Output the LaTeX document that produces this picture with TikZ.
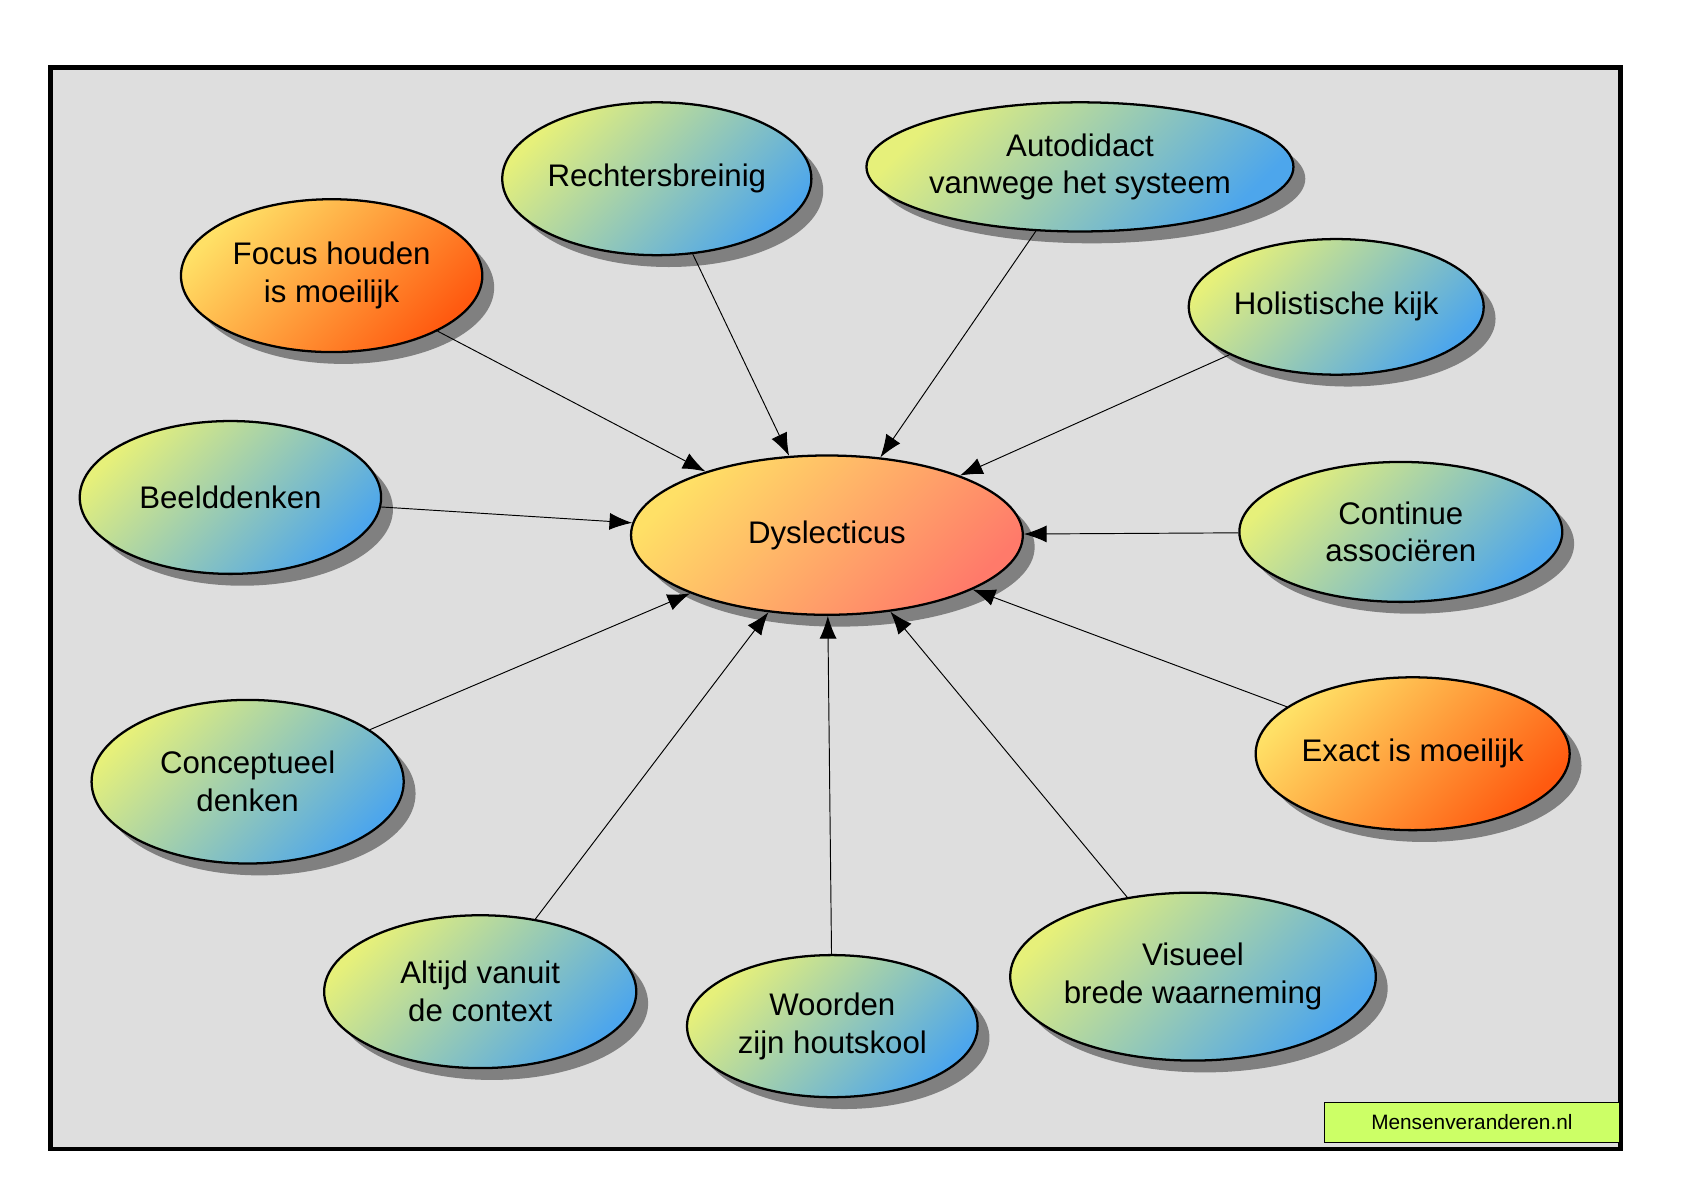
\documentclass[tikz,border=0pt]{standalone}
\usepackage{fontspec}
\setmainfont{Liberation Sans}
\usetikzlibrary{shapes.geometric,shadows,arrows.meta}
\definecolor{yg}{HTML}{E6F07A}
\definecolor{bl}{HTML}{4DA6EC}
\definecolor{yo}{HTML}{FFE066}
\definecolor{ro}{HTML}{FF5A10}
\definecolor{sal}{HTML}{FF7A6A}
\tikzset{
 el/.style n args={2}{ellipse,draw=black,line width=1.2pt,inner sep=0pt,align=center,
   minimum width=#1*0.04cm,minimum height=#2*0.04cm,font=\fontsize{16.5}{20}\selectfont,
   drop shadow={shadow xshift=0.22cm,shadow yshift=-0.22cm,fill=black!50,opacity=1}},
 blue/.style={top color=yg,bottom color=bl,shading angle=45},
 orng/.style={top color=yo,bottom color=ro,shading angle=45},
 arr/.style={-{Latex[length=12pt,width=9pt]},line width=0.5pt}
}
\begin{document}
\begin{tikzpicture}[x=0.02cm,y=-0.02cm]
\useasboundingbox (0,0) rectangle (1564,1106);
\node[draw=black,line width=2.5pt,fill=black!13,minimum width=1458*0.02cm,minimum height=1004*0.02cm,inner sep=0pt] (frame) at (776,565) {};
\node[el={182}{74},top color=yo,bottom color=sal,shading angle=45] (d) at (768,497) {Dyslecticus};
\node[el={140}{71},blue] (r) at (610,166) {Rechtersbreinig};
\node[el={190}{60},blue] (a) at (1003,155) {Autodidact\\vanwege het systeem};
\node[el={140}{71},orng] (f) at (308,256) {Focus houden\\is moeilijk};
\node[el={137}{63},blue] (h) at (1241,285) {Holistische kijk};
\node[el={140}{71},blue] (b) at (214,462) {Beelddenken};
\node[el={150}{65},blue] (c) at (1301,494) {Continue\\associëren};
\node[el={145}{76},blue] (k) at (230,726) {Conceptueel\\denken};
\node[el={140}{71},orng] (e) at (1312,700) {Exact is moeilijk};
\node[el={145}{71},blue] (al) at (446,921) {Altijd vanuit\\de context};
\node[el={135}{66},blue] (w) at (773,953) {Woorden\\zijn houtskool};
\node[el={163}{78},blue] (v) at (1108,907) {Visueel\\brede waarneming};
\foreach \s in {r,a,f,h,b,c,k,e,al,w,v} \draw[arr] (\s) -- (d);
\node[draw=black,line width=0.8pt,fill={rgb,255:red,204;green,255;blue,102},minimum width=274*0.02cm,minimum height=37*0.02cm,inner sep=0pt,font=\fontsize{11}{13}\selectfont] (lbl) at (1367,1042.5) {Mensenveranderen.nl};
\end{tikzpicture}
\end{document}
